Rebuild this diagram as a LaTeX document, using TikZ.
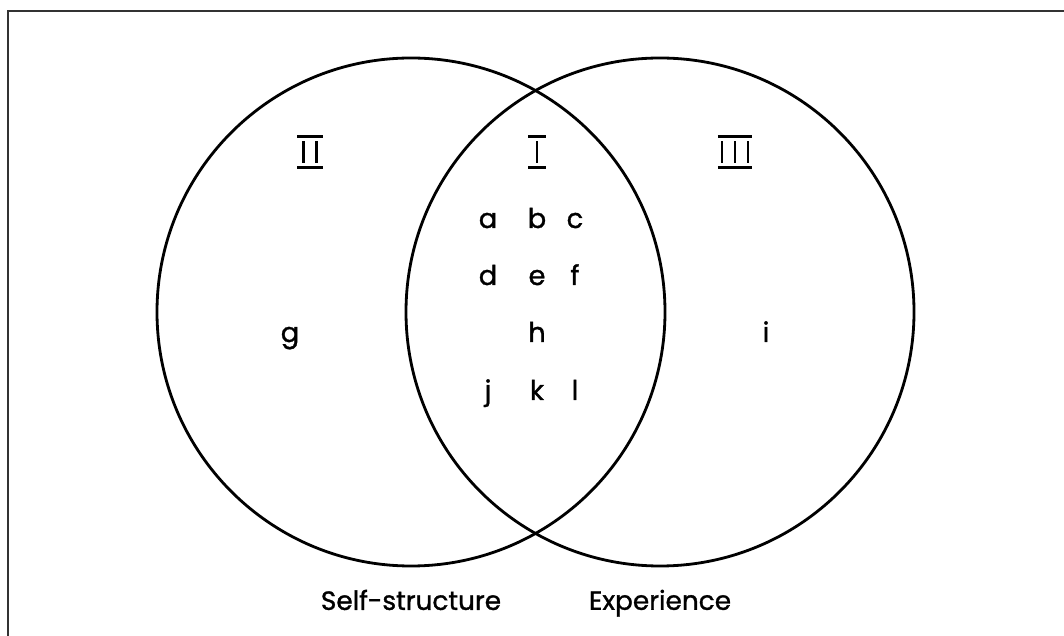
\documentclass[tikz,border=0pt]{standalone}
\usepackage{fontspec}
\setmainfont{Poppins}[FakeBold=1.2]
\usepackage{tikz}
\usetikzlibrary{positioning}

% roman numeral: strokes with a bar above and below
\newcommand{\istroke}{\vrule width 1.5pt height 12.5pt depth 0pt}
\newcommand{\barnum}[2]{\vbox{\hrule height 1.5pt\kern1.7pt\hbox{\kern#1#2\kern#1}\kern1.7pt\hrule height 1.5pt}}

\begin{document}
\begin{tikzpicture}[
        ring/.style={draw, circle, line width=1.6pt, minimum size=10.16cm, inner sep=0pt},
        letter/.style={anchor=base, font=\fontsize{15.5}{19}\selectfont, inner sep=0pt},
        numeral/.style={inner sep=0pt},
        caption/.style={font=\fontsize{15}{19}\selectfont, inner sep=0pt},
        frame/.style={line width=1.1pt, black!80}
    ]
    \useasboundingbox (0,0) rectangle (21.28,12.70);

    % Frame (only top and left edges show)
    \draw[frame] (0.16,-0.5) -- (0.16,12.48) -- (21.8,12.48);

    % Circles
    \node[ring] (self) at (8.22,6.46) {};
    \node[ring] (exper) at (13.20,6.46) {};

    % Region numerals
    \node[numeral] (regII) at (6.20,9.66) {\barnum{2.7pt}{\istroke\kern5.9pt\istroke}};
    \node[numeral] (regI) at (10.74,9.66) {\barnum{4.1pt}{\istroke}};
    \node[numeral] (regIII) at (14.70,9.66) {\barnum{1.6pt}{\istroke\kern5.9pt\istroke\kern5.9pt\istroke}};

    % Overlap letters
    \node[letter] (a) at (9.76,8.14) {a};
    \node[letter] (b) at (10.74,8.14) {b};
    \node[letter] (c) at (11.50,8.14) {c};
    \node[letter] (d) at (9.76,7.00) {d};
    \node[letter] (e) at (10.74,7.00) {e};
    \node[letter] (f) at (11.50,7.00) {f};
    \node[letter] (h) at (10.74,5.86) {h};
    \node[letter] (j) at (9.76,4.70) {j};
    \node[letter] (k) at (10.74,4.70) {k};
    \node[letter] (l) at (11.50,4.70) {l};

    % Outer letters
    \node[letter] (g) at (5.80,5.86) {g};
    \node[letter] (i) at (15.32,5.86) {i};

    % Captions
    \node[caption, below=0.44cm of self] (selflbl) {Self-structure};
    \node[caption, below=0.44cm of exper] (experlbl) {Experience};

\end{tikzpicture}
\end{document}
